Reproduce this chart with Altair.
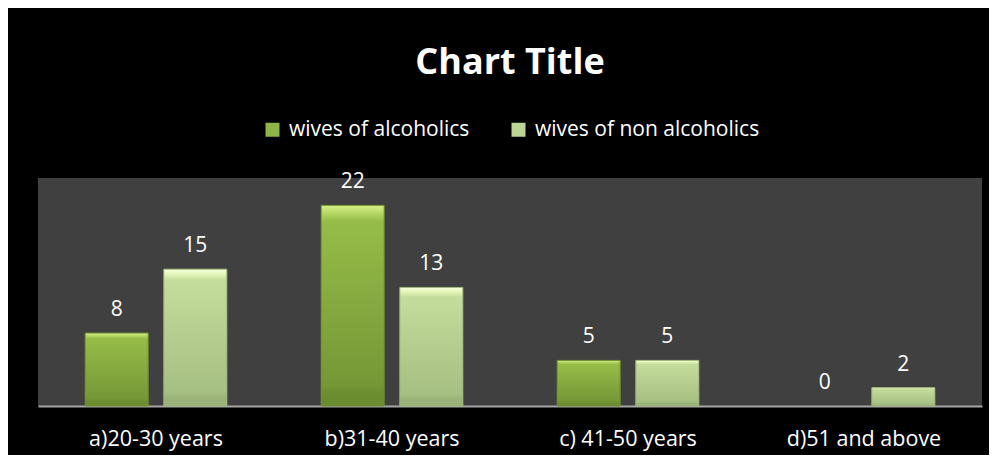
import altair as alt
import pandas as pd

categories = ["a)20-30 years", "b)31-40 years", "c) 41-50 years", "d)51 and above"]
series = ["wives of alcoholics", "wives of non alcoholics"]
alcoholics = [8, 22, 5, 0]
non_alcoholics = [15, 13, 5, 2]

rows = []
for c, a, n in zip(categories, alcoholics, non_alcoholics):
    rows.append({"category": c, "series": series[0], "value": a})
    rows.append({"category": c, "series": series[1], "value": n})
df = pd.DataFrame(rows)

FONT = "Open Sans"

grad_dark = alt.Gradient(
    gradient="linear", x1=0, x2=0, y1=0, y2=1,
    stops=[
        alt.GradientStop(offset=0, color="#d8f08a"),
        alt.GradientStop(offset=0.04, color="#b4d664"),
        alt.GradientStop(offset=0.08, color="#96bc48"),
        alt.GradientStop(offset=0.9, color="#759736"),
        alt.GradientStop(offset=0.94, color="#6c8c30"),
        alt.GradientStop(offset=1, color="#6c8c30"),
    ],
)
grad_light = alt.Gradient(
    gradient="linear", x1=0, x2=0, y1=0, y2=1,
    stops=[
        alt.GradientStop(offset=0, color="#f6ffd8"),
        alt.GradientStop(offset=0.04, color="#e2f4b8"),
        alt.GradientStop(offset=0.08, color="#c4dd9c"),
        alt.GradientStop(offset=0.9, color="#a6bf82"),
        alt.GradientStop(offset=0.94, color="#9bb378"),
        alt.GradientStop(offset=1, color="#9bb378"),
    ],
)

x_enc = alt.X(
    "category:N", sort=categories,
    scale=alt.Scale(paddingInner=0.4, paddingOuter=0.2),
    axis=alt.Axis(title=None, labelAngle=0, ticks=False, grid=False,
                  labelColor="white", labelFont=FONT, labelFontSize=21.5,
                  labelPadding=22, domainColor="#a6a6a6", domainWidth=2),
)
xo_enc = alt.XOffset("series:N", sort=series,
                     scale=alt.Scale(paddingInner=0.2, paddingOuter=0))
y_enc = alt.Y("value:Q", scale=alt.Scale(domain=[0, 25]), axis=None)

base = alt.Chart(df).encode(x=x_enc, xOffset=xo_enc, y=y_enc)

legend_bars = base.transform_filter(alt.datum.value > 0).mark_bar().encode(
    color=alt.Color(
        "series:N", sort=series,
        scale=alt.Scale(domain=series, range=["#8fb548", "#bcd596"]),
        legend=alt.Legend(
            title=None, orient="none", legendX=224, legendY=-59,
            direction="horizontal", labelColor="white", labelFont=FONT,
            labelFontSize=21, labelLimit=400, symbolType="square",
            symbolSize=196, symbolStrokeWidth=0, columnPadding=38,
            labelOffset=6,
        ),
    )
)

dark_bars = base.transform_filter(
    (alt.datum.series == series[0]) & (alt.datum.value > 0)
).mark_bar(fill=grad_dark, stroke="#6f8f30", strokeWidth=1)
light_bars = base.transform_filter(
    (alt.datum.series == series[1]) & (alt.datum.value > 0)
).mark_bar(fill=grad_light, stroke="#9fb77c", strokeWidth=1)

labels = base.mark_text(
    dy=-17, baseline="alphabetic", color="white", font=FONT, fontSize=21
).encode(text="value:Q")

chart = alt.layer(legend_bars, dark_bars, light_bars, labels).properties(
    width=944, height=228,
    padding={"left": 30, "top": 170, "right": 7, "bottom": 49},
    autosize=alt.AutoSizeParams(type="none"),
    background="black",
    title=alt.TitleParams("Chart Title", color="white", font=FONT, fontSize=36,
                          fontWeight="bold", anchor="middle", offset=37),
).configure_view(fill="#404040", stroke=None)

chart.save("out.html", embed_options={"renderer": "svg", "actions": False})
